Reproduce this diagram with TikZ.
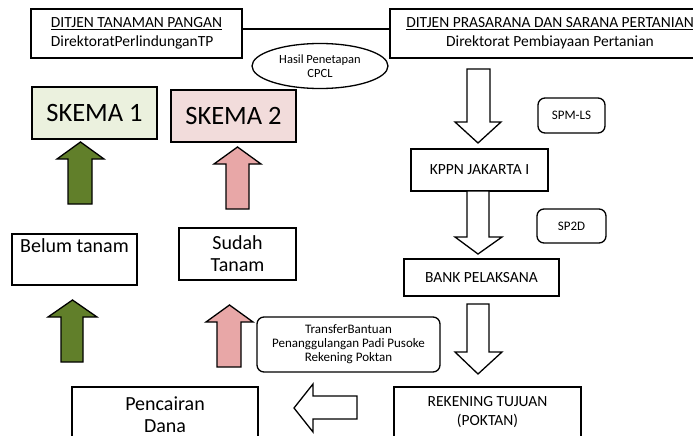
\documentclass[tikz,border=0pt]{standalone}
\usepackage{fontspec}
\setmainfont{Carlito}
\usetikzlibrary{shapes.geometric}
\definecolor{skgreen}{HTML}{EBF1DE}
\definecolor{skpink}{HTML}{F2DCDB}
\definecolor{arrgreen}{HTML}{617F2A}
\definecolor{arrpink}{HTML}{E8A7A7}
\begin{document}
\begin{tikzpicture}[x=1pt,y=-1pt,line join=miter,
  box/.style={draw,line width=1.3pt,inner sep=0pt,align=center},
  rbox/.style={box,rounded corners=7pt},
  blk/.style={draw,line width=1.3pt},
  big/.style={font=\fontsize{20}{22}\selectfont},
  mid/.style={font=\fontsize{15.5}{19}\selectfont},
  small/.style={font=\fontsize{12.5}{14}\selectfont},
  skema/.style={box,minimum width=125pt,minimum height=52pt,font=\fontsize{26.5}{30}\selectfont}]
\useasboundingbox (0,0) rectangle (693,436);

% top boxes
\node[box,mid,align=left,minimum width=211pt,minimum height=49pt] (dtp) at (136.5,33.5)
  {\underline{DITJEN TANAMAN PANGAN}\\DirektoratPerlindunganTP};
\node[box,mid,minimum width=320pt,minimum height=49pt] (dps) at (550,33.5)
  {\underline{DITJEN PRASARANA DAN SARANA PERTANIAN}\\Direktorat Pembiayaan Pertanian};
\draw[line width=1.3pt] ([yshift=4.5pt]dtp.east) -- ([yshift=4.5pt]dps.west);

\node[draw,ellipse,line width=1.3pt,minimum width=136pt,minimum height=45pt,inner sep=0pt,
  align=center,small] (cpcl) at (320,66) {Hasil Penetapan\\CPCL};

% skema boxes
\node[skema,fill=skgreen] (sk1) at (94.5,113) {SKEMA 1};
\node[skema,fill=skpink] (sk2) at (233.5,116) {SKEMA 2};

\node[box,big,minimum width=125pt,minimum height=51pt] (belum) at (74.5,259.5) {Belum tanam\\\strut};
\node[box,big,minimum width=117pt,minimum height=52pt] (sudah) at (237.5,254) {Sudah\\Tanam};

% up arrows
\draw[blk,fill=arrgreen] (80.5,142) -- (104,159) -- (92,159) -- (92,204) -- (68,204) -- (68,159) -- (57,159) -- cycle;
\draw[blk,fill=arrpink] (237.5,147) -- (261,164) -- (249,164) -- (249,209) -- (226,209) -- (226,164) -- (214,164) -- cycle;
\draw[blk,fill=arrgreen] (72.5,300) -- (97,317) -- (83,317) -- (83,362) -- (61,362) -- (61,317) -- (48,317) -- cycle;
\draw[blk,fill=arrpink] (229.5,305) -- (253,322) -- (241,322) -- (241,367) -- (217,367) -- (217,322) -- (206,322) -- cycle;

% right column
\node[rbox,font=\fontsize{13}{15}\selectfont,minimum width=67pt,minimum height=35pt] (spm) at (571.5,115.5) {SPM-LS};
\node[box,mid,minimum width=137pt,minimum height=42pt] (kppn) at (479.5,170) {KPPN JAKARTA I};
\node[rbox,font=\fontsize{13}{15}\selectfont,minimum width=69pt,minimum height=34pt] (sp2d) at (571.5,226) {SP2D};
\node[box,mid,minimum width=155pt,minimum height=37pt] (bank) at (481.5,277.5) {BANK PELAKSANA};
\node[rbox,font=\fontsize{13}{14}\selectfont,minimum width=183pt,minimum height=55pt] (trf) at (348.5,344.5)
  {TransferBantuan\\Penanggulangan Padi Pusoke\\Rekening Poktan};
\node[box,mid,minimum width=187pt,minimum height=51pt] (rek) at (487.5,412.5) {REKENING TUJUAN\\(POKTAN)};
\node[box,big,minimum width=186pt,minimum height=55pt] (cair) at (165,414.5) {Pencairan\\Dana};

% down arrows
\draw[blk,fill=white] (467,69) -- (490,69) -- (490,122) -- (501,122) -- (478,143) -- (455,122) -- (467,122) -- cycle;
\draw[blk,fill=white] (467,191) -- (489,191) -- (489,237) -- (502,237) -- (478,254) -- (455,237) -- (467,237) -- cycle;
\draw[blk,fill=white] (467,304) -- (489,304) -- (489,352) -- (502,352) -- (478,374) -- (455,352) -- (467,352) -- cycle;
% left arrow
\draw[blk,fill=white] (294,408) -- (313,384) -- (313,396) -- (357,396) -- (357,419) -- (313,419) -- (313,432) -- cycle;
\end{tikzpicture}
\end{document}
